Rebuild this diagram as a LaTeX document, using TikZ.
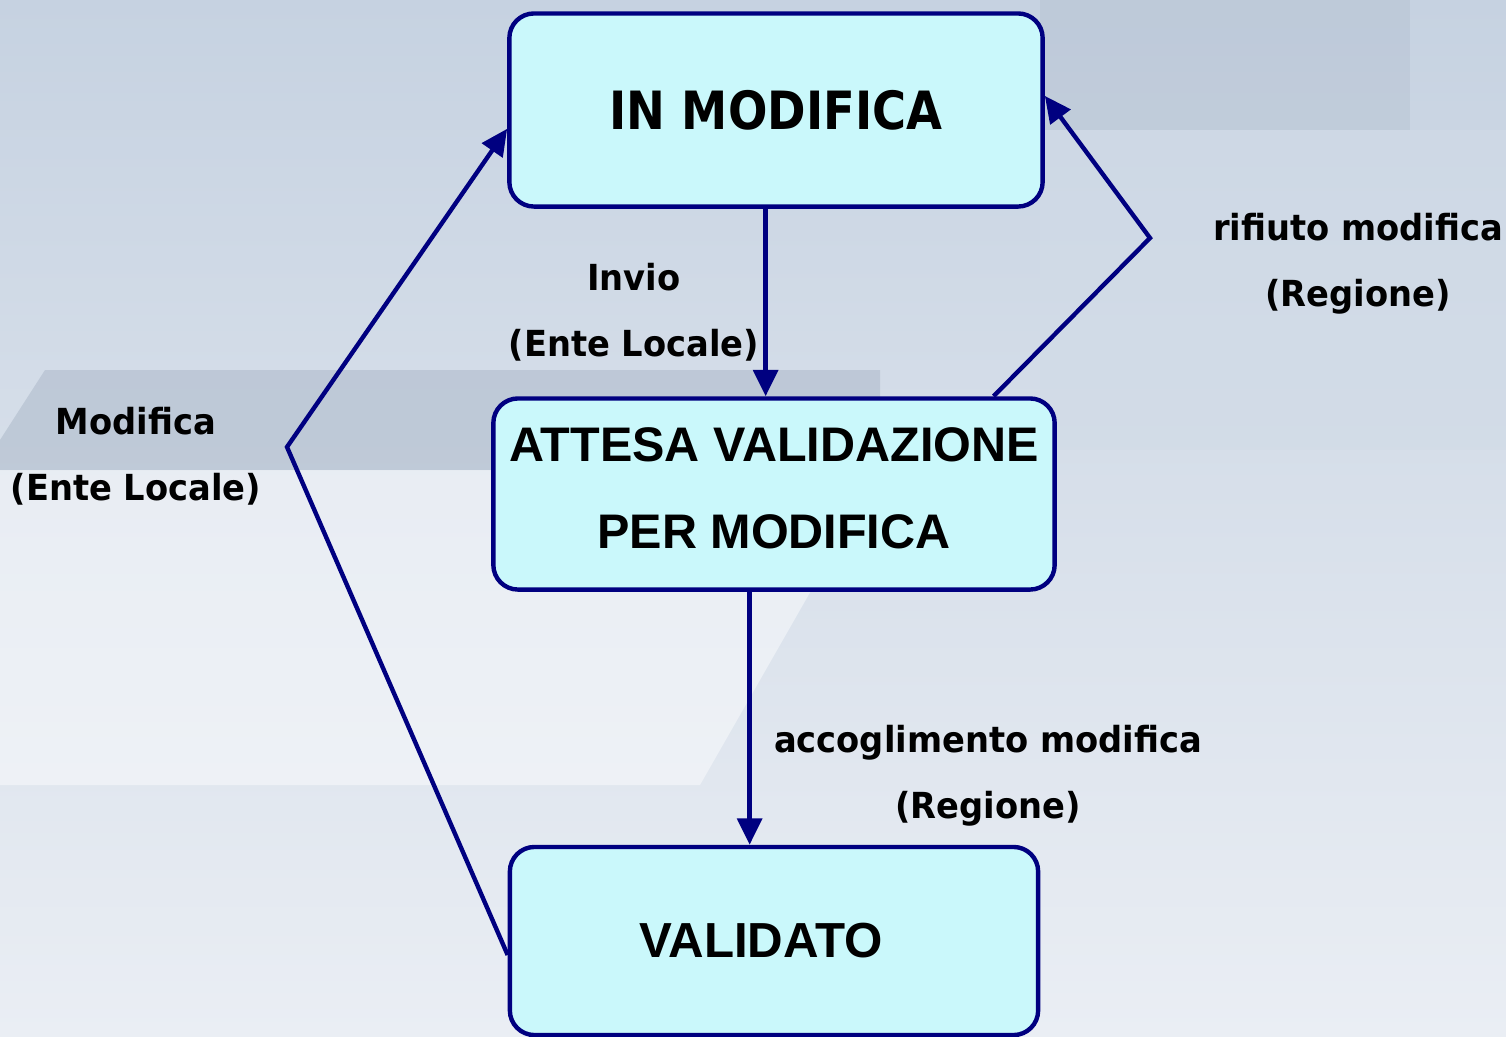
\documentclass[tikz,border=0pt]{standalone}
\usepackage{fontspec}
\setmainfont{Liberation Sans}
\newfontfamily\tahomafont{DejaVu Sans}[FakeStretch=0.88]
\newfontfamily\lblfont{DejaVu Sans}[FakeStretch=0.94]
\usetikzlibrary{arrows.meta}

\definecolor{navy}{RGB}{0,0,128}
\definecolor{boxfill}{RGB}{202,248,251}
\definecolor{bgtop}{RGB}{198,210,225}
\definecolor{bgbot}{RGB}{234,238,244}
\definecolor{bgband}{RGB}{176,188,204}

\begin{document}
\begin{tikzpicture}[x=0.01cm, y=-0.01cm,
        state/.style={draw=navy, line width=1.25pt, rounded corners=7pt, fill=boxfill, align=center},
        lbl/.style={font=\lblfont\bfseries\fontsize{10.2}{18.8}\selectfont, align=center},
        link/.style={draw=navy, line width=1.25pt},
        tip/.style={-{Triangle[length=7.5pt,width=7pt]}}]
        % background
        \useasboundingbox (0,0) rectangle (1506,1036);
        \shade[top color=bgtop, bottom color=bgbot] (0,0) rectangle (1506,1036);
        \fill[bgband, opacity=0.6] (0,440) -- (45,370) -- (880,370) -- (880,470) -- (0,470) -- cycle;
        \fill[white, opacity=0.45] (0,470) -- (880,470) -- (700,785) -- (0,785) -- cycle;
        \fill[bgtop!80!white, opacity=0.5] (1040,130) rectangle (1506,450);
        \fill[bgband, opacity=0.35] (1040,0) rectangle (1410,130);

        % states
        \node[state, minimum width=5.33cm, minimum height=1.93cm, font=\tahomafont\bfseries\fontsize{15}{18}\selectfont] (inmod) at (776,110) {IN MODIFICA};
        \node[state, minimum width=5.61cm, minimum height=1.91cm, text depth=3.4pt, font=\bfseries\fontsize{13.8}{25}\selectfont] (attesa) at (774,494) {ATTESA VALIDAZIONE\\PER MODIFICA};
        \node[state, minimum width=5.28cm, minimum height=1.88cm, font=\bfseries\fontsize{14}{18}\selectfont] (valid) at (774,941) {VALIDATO\hspace*{7.4pt}};

        % corners of the bent links
        \coordinate (lbend) at (287,447);
        \coordinate (rbend) at (1150,238);

        % links
        \draw[link, tip] (inmod.264) -- (inmod.264 |- attesa.north);
        \draw[link, tip] (attesa.256) -- (attesa.256 |- valid.north);
        \draw[link, tip] (valid.183) -- (lbend) -- (inmod.184);
        \draw[link, tip] (attesa.24) -- (rbend) -- (inmod.3);

        % labels
        \node[lbl] (invio) at (634,312) {Invio\\(Ente Locale)};
        \node[lbl] (modif) at (136,456) {Modifica\\(Ente Locale)};
        \node[lbl] (rifiuto) at (1358,264) {rifiuto modifica\\(Regione)};
        \node[lbl] (accogl) at (988,776) {accoglimento modifica\\(Regione)};
\end{tikzpicture}
\end{document}
